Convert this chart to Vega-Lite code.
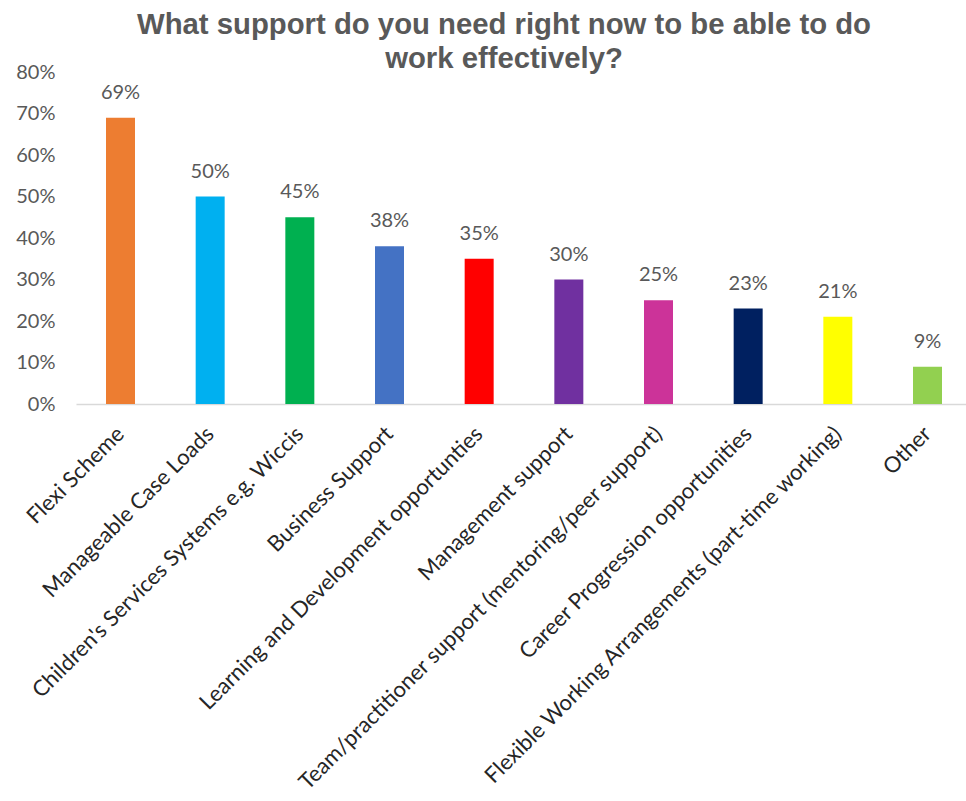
{
  "$schema": "https://vega.github.io/schema/vega-lite/v6.json",
  "width": 896,
  "height": 332,
  "autosize": "none",
  "padding": {"left": 76, "top": 72, "right": 0, "bottom": 397},
  "background": "white",
  "title": {
    "text": ["What support do you need right now to be able to do", "work effectively?"],
    "font": "Liberation Sans",
    "fontSize": 29.3,
    "fontWeight": "bold",
    "color": "#595959",
    "anchor": "middle",
    "dx": -20,
    "offset": -12,
    "lineHeight": 34
  },
  "data": {
    "values": [
      {"category": "Flexi Scheme", "value": 0.69},
      {"category": "Manageable Case Loads", "value": 0.50},
      {"category": "Children's Services Systems e.g. Wiccis", "value": 0.45},
      {"category": "Business Support", "value": 0.38},
      {"category": "Learning and Development opportunties", "value": 0.35},
      {"category": "Management support", "value": 0.30},
      {"category": "Team/practitioner support (mentoring/peer support)", "value": 0.25},
      {"category": "Career Progression opportunities", "value": 0.23},
      {"category": "Flexible Working Arrangements (part-time working)", "value": 0.21},
      {"category": "Other", "value": 0.09}
    ]
  },
  "encoding": {
    "x": {
      "field": "category",
      "type": "nominal",
      "sort": null,
      "scale": {"paddingInner": 0.6766, "paddingOuter": 0.3346},
      "axis": {
        "title": null,
        "labelAngle": -45,
        "labelAlign": "right",
        "labelBaseline": "middle",
        "labelFont": "Lato",
        "labelFontSize": 22,
        "labelColor": "#262626",
        "labelLimit": 0,
        "labelPadding": 26,
        "ticks": false,
        "domainColor": "#D9D9D9",
        "domainWidth": 1.5
      }
    },
    "y": {
      "field": "value",
      "type": "quantitative",
      "scale": {"domain": [0, 0.8], "nice": false},
      "axis": {
        "title": null,
        "values": [0, 0.1, 0.2, 0.3, 0.4, 0.5, 0.6, 0.7, 0.8],
        "format": ".0%",
        "grid": false,
        "domain": false,
        "ticks": false,
        "labelPadding": 21,
        "labelFont": "Lato",
        "labelFontSize": 20,
        "labelColor": "#595959"
      }
    }
  },
  "layer": [
    {
      "mark": {"type": "bar"},
      "encoding": {
        "color": {
          "field": "category",
          "type": "nominal",
          "sort": null,
          "legend": null,
          "scale": {
            "domain": ["Flexi Scheme", "Manageable Case Loads", "Children's Services Systems e.g. Wiccis", "Business Support", "Learning and Development opportunties", "Management support", "Team/practitioner support (mentoring/peer support)", "Career Progression opportunities", "Flexible Working Arrangements (part-time working)", "Other"],
            "range": ["#ED7D31", "#00B0F0", "#00B050", "#4472C4", "#FF0000", "#7030A0", "#CC3399", "#002060", "#FFFF00", "#92D050"]
          }
        }
      }
    },
    {
      "mark": {"type": "text", "baseline": "alphabetic", "dy": -19, "font": "Lato", "fontSize": 20, "color": "#595959"},
      "encoding": {
        "text": {"field": "value", "type": "quantitative", "format": ".0%"}
      }
    }
  ],
  "config": {"view": {"stroke": null}}
}
